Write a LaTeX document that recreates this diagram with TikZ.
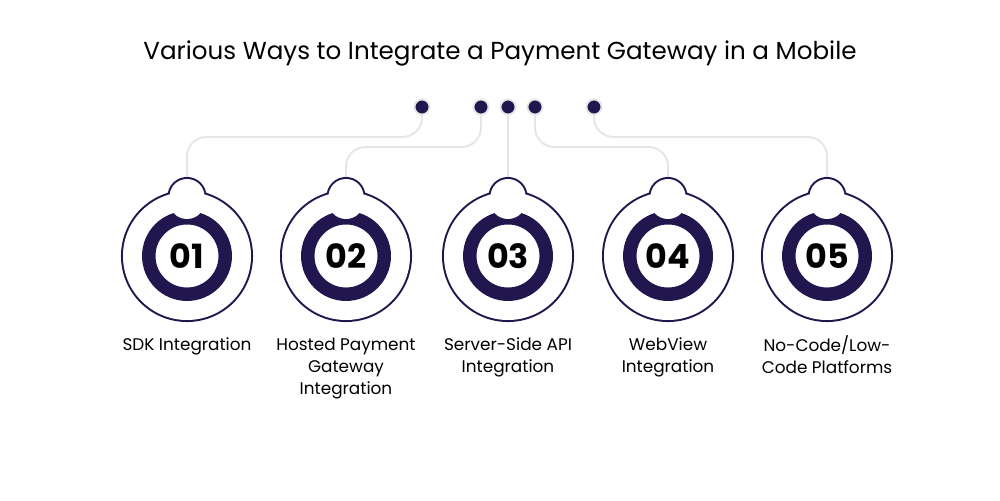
\documentclass[tikz,border=0pt]{standalone}
\usepackage{fontspec}
\setmainfont{Poppins}
\usepackage{tikz}
\usetikzlibrary{positioning}
\definecolor{navy}{HTML}{22164F}
\definecolor{wire}{HTML}{E6E6E6}
\tikzstyle{link} = [wire, line width=1.1pt, rounded corners=11pt]
\tikzstyle{dot} = [circle, fill=navy, draw=wire, line width=1pt, minimum size=8.5pt, inner sep=0pt]
\tikzstyle{rim} = [navy, line width=2.3pt]
\tikzstyle{ring} = [circle, draw=navy, line width=7.65pt, minimum size=1.53cm, inner sep=0pt, font=\fontsize{19}{19}\selectfont\bfseries]
\tikzstyle{label} = [align=center, inner sep=0pt, anchor=north, font=\fontsize{9.6}{12.5}\selectfont]

\begin{document}
\begin{tikzpicture}[x=0.02cm, y=-0.02cm]
                        \fill[white] (0,0) rectangle (1000,500);
                        \useasboundingbox (0,0) rectangle (1000,500);
                        \node (title) at (500,53) {\fontsize{14}{16}\selectfont Various Ways to Integrate a Payment Gateway in a Mobile};
                        % dots at the top
                        \node[dot] (d1) at (422,107) {};
                        \node[dot] (d2) at (481,107) {};
                        \node[dot] (d3) at (508,107) {};
                        \node[dot] (d4) at (535,107) {};
                        \node[dot] (d5) at (594,107) {};
                        % knob tops
                        \coordinate (k1) at (187,179);
                        \coordinate (k2) at (346,179);
                        \coordinate (k3) at (508,179);
                        \coordinate (k4) at (668,179);
                        \coordinate (k5) at (827,179);
                        \draw[link] (d1) -- (d1 |- 0,137) -- (k1 |- 0,137) -- (k1);
                        \draw[link] (d2) -- (d2 |- 0,147) -- (k2 |- 0,147) -- (k2);
                        \draw[link] (d3) -- (k3);
                        \draw[link] (d4) -- (d4 |- 0,147) -- (k4 |- 0,147) -- (k4);
                        \draw[link] (d5) -- (d5 |- 0,137) -- (k5 |- 0,137) -- (k5);
                        \node[dot] at (d1) {};
                        \node[dot] at (d2) {};
                        \node[dot] at (d3) {};
                        \node[dot] at (d4) {};
                        \node[dot] at (d5) {};
                        % badges
                        \foreach \x/\n in {187/1, 346/2, 508/3, 668/4, 827/5} {
                            \draw[rim] (\x,256) circle [radius=64] (\x,196.5) circle [radius=17.5];
                            \fill[white] (\x,256) circle [radius=64] (\x,196.5) circle [radius=17.5];
                            \node[ring] (b\n) at (\x,256) {0\n};
                            \fill[white] (\x,201) circle [radius=18];
                        }
                        % labels
                        \node[label] (l1) at (187,335) {\strut SDK Integration};
                        \node[label] (l2) at (346,335) {\strut Hosted Payment\\Gateway\\Integration};
                        \node[label] (l3) at (508,335) {\strut Server-Side API\\Integration};
                        \node[label] (l4) at (668,335) {\strut WebView\\Integration};
                        \node[label] (l5) at (827,335) {\strut No-Code/Low-\\Code Platforms};
                    \end{tikzpicture}
\end{document}
